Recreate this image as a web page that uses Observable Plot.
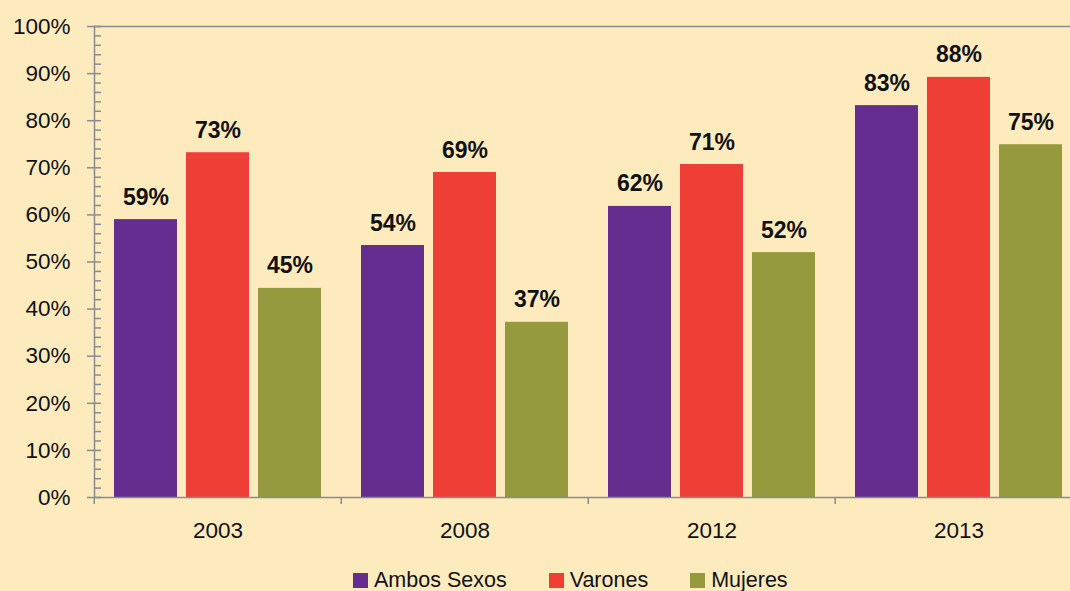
<!DOCTYPE html>
<html>
<head>
<meta charset="utf-8">
<script src="https://cdn.jsdelivr.net/npm/d3@7"></script>
<script src="https://cdn.jsdelivr.net/npm/@observablehq/plot@0.6"></script>
<style>
  html, body { margin: 0; padding: 0; background: #fdebbe; overflow: hidden; }
  body { width: 1070px; height: 591px; font-family: "Liberation Sans", Arial, sans-serif; }
  #legend { display: flex; align-items: center; margin-left: 353px; margin-top: 8px; font-size: 21.5px; color: #111; }
  .item { display: flex; align-items: center; margin-right: 42px; }
  .sw { width: 15px; height: 15px; margin-right: 6px; }
</style>
</head>
<body>
<div id="chart"></div>
<div id="legend"></div>
<script>
const years = ["2003", "2008", "2012", "2013"];
const series = ["Ambos Sexos", "Varones", "Mujeres"];
const colors = ["#652d90", "#ef3e36", "#969a3e"];
const ambos = [59.0, 53.5, 61.8, 83.2];
const varones = [73.2, 69.0, 70.7, 89.2];
const mujeres = [44.4, 37.2, 52.0, 74.9];
const labelsAmbos = ["59%", "54%", "62%", "83%"];
const labelsVarones = ["73%", "69%", "71%", "88%"];
const labelsMujeres = ["45%", "37%", "52%", "75%"];
const yTicks = [0, 10, 20, 30, 40, 50, 60, 70, 80, 90, 100];

const values = [ambos, varones, mujeres];
const labels = [labelsAmbos, labelsVarones, labelsMujeres];
const data = [];
years.forEach((yr, i) => series.forEach((s, j) => data.push({year: yr, series: s, value: values[j][i], label: labels[j][i]})));

const W = 1070, ML = 93, MR = -13;
const bandHalf = (W - MR - ML) / years.length / 2;
const gray = "#878c94";

const chart = Plot.plot({
  width: W,
  height: 560,
  marginLeft: ML,
  marginRight: MR,
  marginTop: 26,
  marginBottom: 63,
  style: {background: "#fdebbe", fontSize: "22.5px", fontFamily: "'Liberation Sans', Arial, sans-serif", color: "#111", overflow: "visible"},
  fx: {domain: years, padding: 0, axis: null},
  x: {domain: series, paddingInner: 0.1233, paddingOuter: 0.257, axis: null},
  y: {domain: [0, 100], axis: null},
  color: {domain: series, range: colors},
  marks: [
    Plot.barY(data, {fx: "year", x: "series", y: "value", fill: "series"}),
    Plot.ruleY([0, 100], {stroke: gray, strokeWidth: 1.5}),
    Plot.frame({anchor: "left", facetAnchor: "left", stroke: gray, strokeWidth: 1.5}),
    Plot.axisY({ticks: yTicks, tickSize: 7, tickPadding: 17, tickFormat: d => d + "%", label: null, stroke: gray, strokeWidth: 1.5, fill: "#111"}),
    Plot.axisY({ticks: d3.range(0, 101, 2), tickSize: 7, dx: 7, tickFormat: () => "", label: null, stroke: gray, strokeWidth: 1.5}),
    Plot.axisFx({anchor: "bottom", tickSize: 0, tickPadding: 25, label: null, fill: "#111"}),
    Plot.axisFx({anchor: "bottom", tickSize: 7, dx: -bandHalf, tickFormat: () => "", label: null, stroke: gray, strokeWidth: 1.5}),
    Plot.text(data, {fx: "year", x: "series", y: "value", text: "label", dy: -15, lineAnchor: "bottom", fontSize: 23, fontWeight: "bold", fill: "#111"})
  ]
});
document.getElementById("chart").appendChild(chart);

const legend = document.getElementById("legend");
series.forEach((s, i) => {
  const it = document.createElement("div");
  it.className = "item";
  it.innerHTML = `<div class="sw" style="background:${colors[i]}"></div><span>${s}</span>`;
  legend.appendChild(it);
});
</script>
</body>
</html>
